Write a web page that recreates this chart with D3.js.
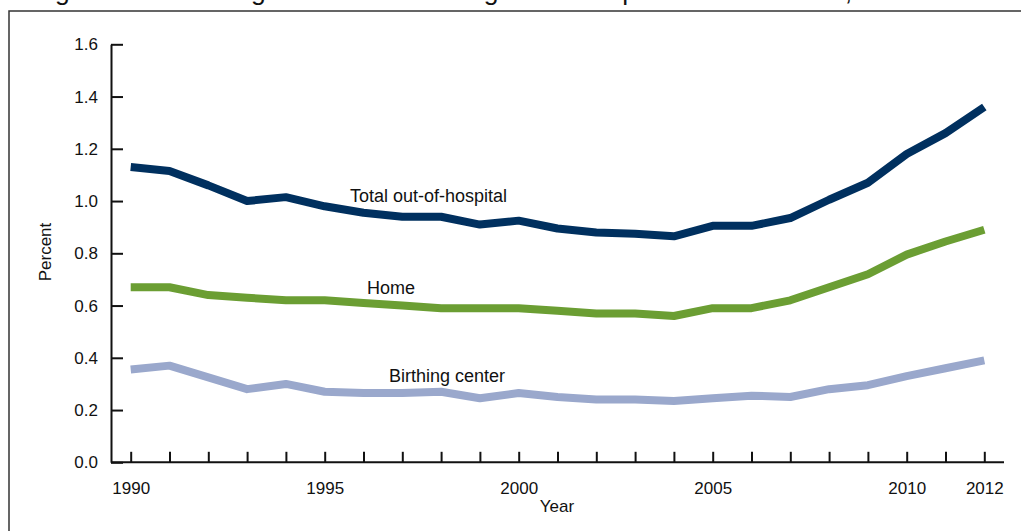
<!DOCTYPE html>
<meta charset="utf-8">
<html>
<head>
  <script src="https://d3js.org/d3.v7.min.js" charset="utf-8"></script>
</head>
<style>
body { margin: 0; background: white; }
text { font-family: "Liberation Sans", Arial, sans-serif; fill: #111; }
.axis path, .axis line { stroke: #111; stroke-width: 2; }
</style>
<body>
<div id="container"></div>
<script type="text/javascript">

var years = d3.range(1990, 2013)
var totalOut = [1.13, 1.115, 1.06, 1.0, 1.015, 0.98, 0.955, 0.94, 0.94, 0.91, 0.925, 0.895, 0.88, 0.875, 0.865, 0.905, 0.905, 0.935, 1.005, 1.07, 1.18, 1.26, 1.36]
var home = [0.67, 0.67, 0.64, 0.63, 0.62, 0.62, 0.61, 0.60, 0.59, 0.59, 0.59, 0.58, 0.57, 0.57, 0.56, 0.59, 0.59, 0.62, 0.67, 0.72, 0.795, 0.845, 0.89]
var birthCenter = [0.355, 0.37, 0.325, 0.28, 0.30, 0.27, 0.265, 0.265, 0.27, 0.245, 0.265, 0.25, 0.24, 0.24, 0.235, 0.245, 0.255, 0.25, 0.28, 0.295, 0.33, 0.36, 0.39]
var yTicks = [0, 0.2, 0.4, 0.6, 0.8, 1.0, 1.2, 1.4, 1.6]
var xLabels = [1990, 1995, 2000, 2005, 2010, 2012]

var series = [
  {name: "Total out-of-hospital", values: totalOut, color: "#00305f", lx: 350, ly: 202},
  {name: "Home", values: home, color: "#6b9e33", lx: 367, ly: 294},
  {name: "Birthing center", values: birthCenter, color: "#9aa8cc", lx: 389, ly: 382}
]

var width = 1021
var height = 531

const svg = d3.select("#container")
              .append("svg")
              .attr("width", width)
              .attr("height", height)

// cut-off title at the top
svg.append("text")
   .attr("x", 33)
   .attr("y", 0)
   .attr("font-size", "26.5px")
   .text("Figure 1. Percentage of births occurring out of hospital: United States, 1990\u20132012")

// frame
svg.append("rect")
   .attr("x", 9)
   .attr("y", 11)
   .attr("width", 1040)
   .attr("height", 560)
   .attr("fill", "none")
   .attr("stroke", "#333")
   .attr("stroke-width", 1.5)

var x = d3.scaleLinear().domain([1990, 2012]).range([130.7, 984.3])
var y = d3.scaleLinear().domain([0, 1.6]).range([462.3, 44.3])

var xAxis = svg.append("g")
   .attr("class", "axis")
   .attr("transform", "translate(0," + y(0) + ")")
   .call(d3.axisBottom(x)
           .tickValues(years)
           .tickSizeInner(-10.5)
           .tickSizeOuter(0)
           .tickPadding(20)
           .tickFormat((d) => xLabels.includes(d) ? d : ""))
xAxis.select(".domain").remove()
xAxis.append("line")
   .attr("x1", 111).attr("x2", 1004)
   .attr("y1", 0).attr("y2", 0)
xAxis.selectAll("text").attr("font-size", "17px").attr("fill", "#111").attr("font-family", null)

var yAxis = svg.append("g")
   .attr("class", "axis")
   .attr("transform", "translate(111,0)")
   .call(d3.axisLeft(y)
           .tickValues(yTicks)
           .tickSizeInner(-12)
           .tickSizeOuter(0)
           .tickPadding(13)
           .tickFormat(d3.format(".1f")))
yAxis.selectAll("text").attr("font-size", "17px").attr("fill", "#111").attr("font-family", null)
   .attr("x", -13)

svg.append("text")
   .attr("transform", "translate(51,252) rotate(-90)")
   .attr("text-anchor", "middle")
   .attr("font-size", "17px")
   .text("Percent")

svg.append("text")
   .attr("x", 557)
   .attr("y", 512)
   .attr("text-anchor", "middle")
   .attr("font-size", "17px")
   .text("Year")

var line = d3.line()
   .x((d, i) => x(years[i]))
   .y((d) => y(d))

svg.selectAll(".series")
   .data(series)
   .enter()
   .append("path")
   .attr("class", "series")
   .attr("d", (d) => line(d.values))
   .attr("fill", "none")
   .attr("stroke", (d) => d.color)
   .attr("stroke-width", 8)
   .attr("stroke-linejoin", "round")

svg.selectAll(".label")
   .data(series)
   .enter()
   .append("text")
   .attr("class", "label")
   .attr("x", (d) => d.lx)
   .attr("y", (d) => d.ly)
   .attr("font-size", "18px")
   .text((d) => d.name)

</script>
</body>
</html>
